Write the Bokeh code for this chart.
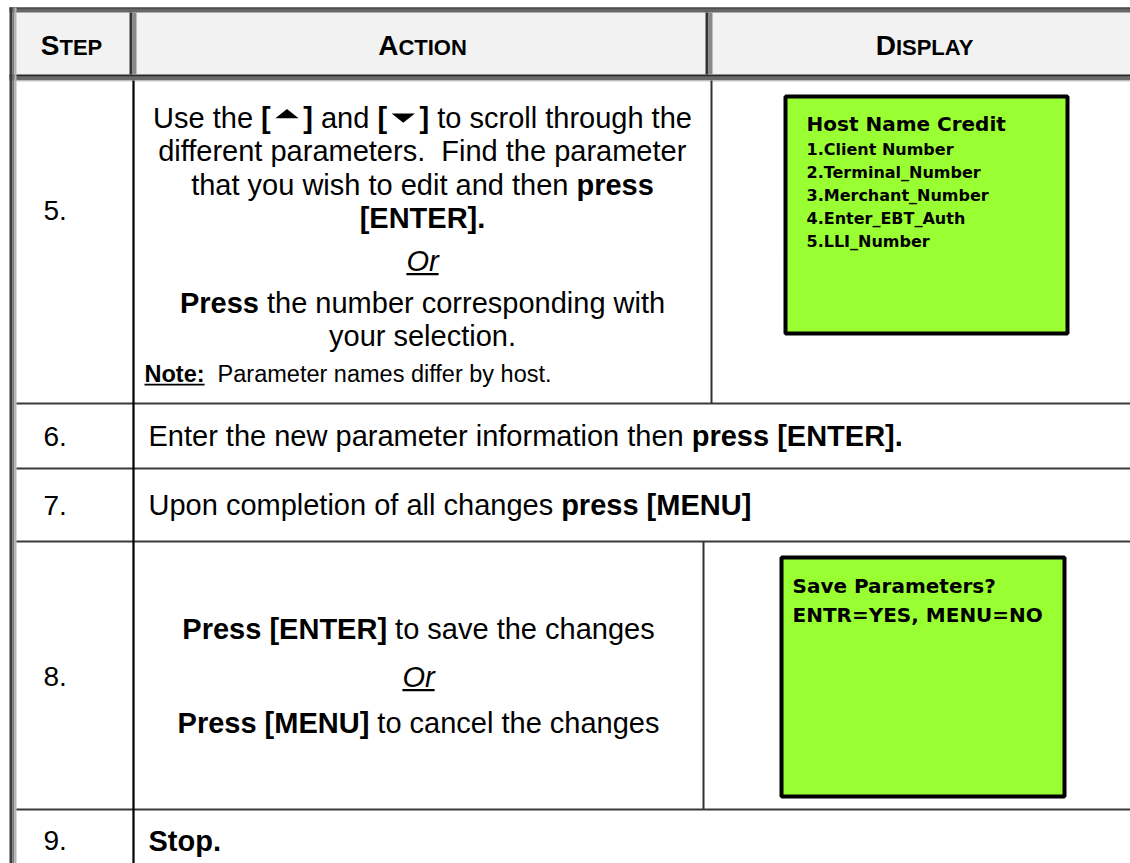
from bokeh.plotting import figure
from bokeh.models import ColumnDataSource, Range1d
from bokeh.core.properties import value, field
from bokeh.embed import file_html
from bokeh.resources import INLINE

# ---------------- table content ----------------
headers = ["Step", "Action", "Display"]
steps = ["5.", "6.", "7.", "8.", "9."]

# segments: (text, style)  style: n=normal b=bold iu=italic+underline bu=bold+underline tri=triangle
row5_lines = [
    [("Use the ", "n"), ("[", "b"), ("UP", "tri"), ("]", "b"), (" and ", "n"),
     ("[", "b"), ("DOWN", "tri"), ("]", "b"), (" to scroll through the", "n")],
    [("different parameters.  Find the parameter", "n")],
    [("that you wish to edit and then ", "n"), ("press", "b")],
    [("[ENTER].", "b")],
    [("Or", "iu")],
    [("Press", "b"), (" the number corresponding with", "n")],
    [("your selection.", "n")],
]
row5_note = [("Note:", "bu"), ("  Parameter names differ by host.", "n")]
row6_line = [("Enter the new parameter information then ", "n"), ("press [ENTER].", "b")]
row7_line = [("Upon completion of all changes ", "n"), ("press [MENU]", "b")]
row8_lines = [
    [("Press [ENTER]", "b"), (" to save the changes", "n")],
    [("Or", "iu")],
    [("Press [MENU]", "b"), (" to cancel the changes", "n")],
]
row9_line = [("Stop.", "b")]

display5_title = "Host Name Credit"
display5_items = ["1.Client Number", "2.Terminal_Number", "3.Merchant_Number",
                  "4.Enter_EBT_Auth", "5.LLI_Number"]
display8_lines = ["Save Parameters?", "ENTR=YES, MENU=NO"]

# ---------------- font metrics (Arial / Liberation Sans, 1/1000 em) ----------------
REG = dict(zip("ABCDEFGHIJKLMNOPQRSTUVWXYZ",
               [667,667,722,722,667,611,778,722,278,500,667,556,833,722,778,667,778,722,667,611,722,667,944,667,667,611]))
REG.update(zip("abcdefghijklmnopqrstuvwxyz",
               [556,556,500,556,556,278,556,556,222,222,500,222,833,556,556,556,556,333,500,278,556,500,722,500,500,500]))
REG.update({c: 556 for c in "0123456789"})
REG.update({" ": 278, "\u00a0": 278, ".": 278, ",": 278, ":": 278, "[": 278, "]": 278, "_": 556, "?": 556, "=": 584})
BOLD = dict(zip("ABCDEFGHIJKLMNOPQRSTUVWXYZ",
                [722,722,722,722,667,611,778,722,278,556,722,611,833,722,778,667,778,722,667,611,722,667,944,667,667,611]))
BOLD.update(zip("abcdefghijklmnopqrstuvwxyz",
                [556,611,556,611,556,333,611,611,278,278,556,278,889,611,611,611,611,389,556,333,611,556,778,556,556,500]))
BOLD.update({c: 556 for c in "0123456789"})
BOLD.update({" ": 278, "\u00a0": 278, ".": 278, ",": 278, ":": 333, "[": 333, "]": 333, "_": 556, "?": 611, "=": 584})
TRI_EM = 1.12


def text_w(t, bold, fs):
    tab = BOLD if bold else REG
    return sum(tab.get(c, 556) for c in t) / 1000.0 * fs


texts = dict(x=[], y=[], text=[], style=[], size=[])
unders = dict(x0=[], x1=[], y0=[], y1=[], w=[])
tris = dict(xs=[], ys=[])


def put(x, y, t, style, fs):
    texts["x"].append(x); texts["y"].append(y); texts["text"].append(t)
    texts["style"].append(style); texts["size"].append("%.1fpx" % fs)


def layout(segs, fs, y, cx=None, x=None):
    """y is the visual (cap-height) centre of the line"""
    widths = []
    for t, st in segs:
        if st == "tri":
            widths.append(TRI_EM * fs)
        else:
            widths.append(text_w(t, "b" in st, fs))
    total = sum(widths)
    cur = cx - total / 2.0 if cx is not None else x
    for (t, st), w in zip(segs, widths):
        if st == "tri":
            xc = cur + w / 2.0
            hw = 0.40 * fs
            if t == "UP":
                tris["xs"].append([xc - hw, xc + hw, xc])
                tris["ys"].append([y + 0.03 * fs, y + 0.03 * fs, y - 0.29 * fs])
            else:
                tris["xs"].append([xc - hw, xc + hw, xc])
                tris["ys"].append([y - 0.14 * fs, y - 0.14 * fs, y + 0.18 * fs])
        else:
            bold = "b" in st
            lead = len(t) - len(t.lstrip(" "))
            core = t.strip(" ").replace("  ", " \u00a0")
            x0 = cur + text_w(" " * lead, bold, fs)
            style = "bold" if bold else ("italic" if "i" in st else "normal")
            put(x0, y, core, style, fs)
            if "u" in st:
                x1 = x0 + text_w(core, bold, fs)
                uy = y + 0.47 * fs
                unders["x0"].append(x0); unders["x1"].append(x1)
                unders["y0"].append(uy); unders["y1"].append(uy)
                unders["w"].append(0.075 * fs)
        cur += w


# ---------------- geometry ----------------
W, H = 1130, 863
FS = 29
FS_NOTE = 23.5
col_step_c, col_act_c, col_disp_c = 71, 422, 925
row_top = [80, 403, 468, 541, 809]
row_bot = [403, 468, 541, 809, 880]

# header small caps
for name, cx in zip(headers, [col_step_c, col_act_c, col_disp_c]):
    up = name.upper()
    w1 = text_w(up[0], True, 28)
    w2 = text_w(up[1:], True, 22)
    x0 = cx - (w1 + w2) / 2.0
    put(x0, 45, up[0], "bold", 28)
    put(x0 + w1, 45 + 0.36 * 28 - 0.36 * 22, up[1:], "bold", 22)

# step numbers
step_mid = [210, 435.5, 504.5, 676, 840]
for s, ym in zip(steps, step_mid):
    put(43, ym, s, "normal", 28)

# row 5
for segs, ym in zip(row5_lines, [117, 150.5, 184, 217.5, 260, 302, 335.5]):
    layout(segs, FS, ym, cx=col_act_c)
layout(row5_note, FS_NOTE, 373, x=144)
layout(row6_line, FS, 435.5, x=148)
layout(row7_line, FS, 504.5, x=148)
for segs, ym in zip(row8_lines, [628, 676, 722.5]):
    layout(segs, FS, ym, cx=418)
layout(row9_line, FS, 840, x=148)

# display boxes text
box_txt = dict(x=[], y=[], text=[], size=[])
def bput(x, y, t, fs):
    box_txt["x"].append(x); box_txt["y"].append(y); box_txt["text"].append(t); box_txt["size"].append("%dpx" % fs)
bput(806, 123, display5_title, 20)
for i, t in enumerate(display5_items):
    bput(806, 149 + 23 * i, t, 16)
for i, t in enumerate(display8_lines):
    bput(792, 585 + 29 * i, t, 20)

# ---------------- figure ----------------
p = figure(width=W, height=H, x_range=Range1d(0, W), y_range=Range1d(H, 0),
           toolbar_location=None, output_backend="svg",
           x_axis_location=None, y_axis_location=None, min_border=0)
p.outline_line_color = None
p.background_fill_color = "white"
p.border_fill_color = "white"
for g in p.grid:
    g.visible = False

R = 1140
# header
p.quad(left=[16], right=[R], top=[12], bottom=[74], fill_color="#f2f2f2", line_color=None)
p.quad(left=[9], right=[R], top=[7], bottom=[12], fill_color="#666666", line_color=None)
p.segment(x0=[9], x1=[R], y0=[7.5], y1=[7.5], line_color="#333333", line_width=1)
p.quad(left=[9], right=[R], top=[74], bottom=[80], fill_color="#6a6a6a", line_color=None)
p.segment(x0=[9], x1=[R], y0=[75], y1=[75], line_color="#2a2a2a", line_width=1.5)
p.segment(x0=[16], x1=[R], y0=[80.5], y1=[80.5], line_color="#c8c8c8", line_width=1)
# header dividers
p.quad(left=[129, 705], right=[132, 708], top=[12, 12], bottom=[74, 74], fill_color="#333333", line_color=None)
p.quad(left=[132, 708], right=[136, 712], top=[12, 12], bottom=[74, 74], fill_color="#8a8a8a", line_color=None)
# left outer border
p.quad(left=[9, 12, 14], right=[12, 14, 16], top=[7, 7, 7], bottom=[880, 880, 880],
       fill_color=["#3c3c3c", "#7a7a7a", "#b5b5b5"], line_color=None)
# row separators
p.segment(x0=[16] * 4, x1=[R] * 4, y0=row_top[1:], y1=row_top[1:], line_color="#3a3a3a", line_width=2)
# column separators in body
p.segment(x0=[133], x1=[133], y0=[80], y1=[880], line_color="#000000", line_width=2.2)
p.segment(x0=[711, 703], x1=[711, 703], y0=[row_top[0], row_top[3]], y1=[row_bot[0], row_bot[3]],
          line_color="#333333", line_width=2)

# display boxes
p.quad(left=[785, 781], right=[1067, 1064], top=[96, 557], bottom=[333, 796],
       fill_color="#99ff33", line_color="#000000", line_width=4)

# texts
src = ColumnDataSource(texts)
p.text(x="x", y="y", text="text", source=src, text_font=value("Liberation Sans"),
       text_font_size=field("size"), text_font_style=field("style"),
       text_color="#000000", text_align="left", text_baseline="alphabetic")
p.segment(x0="x0", x1="x1", y0="y0", y1="y1", line_width="w", line_color="#000000",
          source=ColumnDataSource(unders))
p.patches(xs="xs", ys="ys", source=ColumnDataSource(tris), fill_color="#000000", line_color=None)
p.text(x="x", y="y", text="text", source=ColumnDataSource(box_txt), text_font=value("DejaVu Sans"),
       text_font_size=field("size"), text_font_style="bold", text_color="#000000",
       text_align="left", text_baseline="alphabetic")

open("out.html", "w").write(file_html(p, INLINE))
